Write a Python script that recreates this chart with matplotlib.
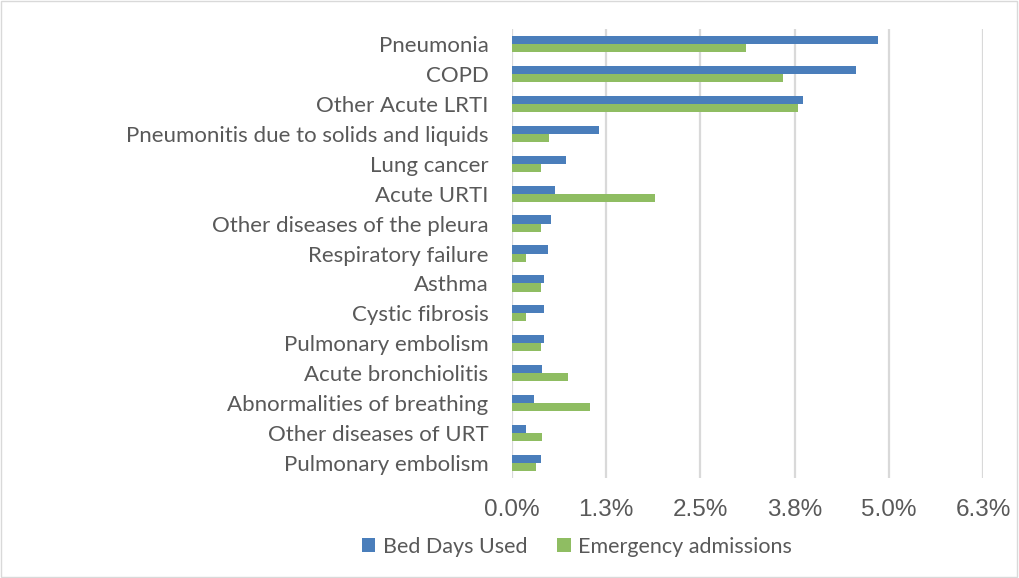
import numpy as np
import matplotlib.pyplot as plt

# categories top to bottom, values in percent
categories = ["Pneumonia", "COPD", "Other Acute LRTI",
              "Pneumonitis due to solids and liquids", "Lung cancer",
              "Acute URTI", "Other diseases of the pleura",
              "Respiratory failure", "Asthma", "Cystic fibrosis",
              "Pulmonary embolism", "Acute bronchiolitis",
              "Abnormalities of breathing", "Other diseases of URT",
              "Pulmonary embolism"]
bed_days = [4.86, 4.56, 3.86, 1.16, 0.72, 0.57, 0.52, 0.48, 0.43, 0.42,
            0.42, 0.40, 0.29, 0.19, 0.39]
emergency = [3.10, 3.59, 3.80, 0.49, 0.39, 1.90, 0.39, 0.19, 0.39, 0.19,
             0.39, 0.74, 1.03, 0.40, 0.32]
xticks = [0, 1.25, 2.5, 3.75, 5.0, 6.25]
xticklabels = ["0.0%", "1.3%", "2.5%", "3.8%", "5.0%", "6.3%"]

grey = "#595959"
fig = plt.figure(figsize=(10.19, 5.78), dpi=100)
ax = fig.add_axes([512 / 1019, 1 - 478 / 578, (983 - 512) / 1019, (478 - 29) / 578])

y = np.arange(len(categories))
h = 0.27
ax.barh(y - h / 2, bed_days, height=h, color="#4a7ebb", label="Bed Days Used")
ax.barh(y + h / 2, emergency, height=h, color="#8fbd62", label="Emergency admissions")

ax.set_ylim(len(categories) - 0.5, -0.5)
ax.set_xlim(0, 6.25)
ax.set_yticks(y)
ax.set_yticklabels(categories, fontsize=16, color=grey, family="Lato")
ax.set_xticks(xticks)
ax.set_xticklabels(xticklabels, fontsize=17.5, color=grey, family="Liberation Sans")
ax.tick_params(length=0)
ax.tick_params(axis="y", pad=17)
ax.tick_params(axis="x", pad=15)
ax.grid(axis="x", color="#d9d9d9", linewidth=1.6)
ax.set_axisbelow(True)
for s in ax.spines.values():
    s.set_visible(False)

leg = fig.legend(loc="center", bbox_to_anchor=(577 / 1019, 1 - 547 / 578), ncol=2,
                 frameon=False, handlelength=0.62, handleheight=0.62,
                 handletextpad=0.35, columnspacing=1.4,
                 prop={"family": "Lato", "size": 15.5})
for t in leg.get_texts():
    t.set_color(grey)

fig.patches.append(plt.Rectangle((0.001, 0.002), 0.997, 0.996, transform=fig.transFigure,
                                 fill=False, edgecolor="#d9d9d9", linewidth=1))
fig.savefig("out.png", dpi=100)
